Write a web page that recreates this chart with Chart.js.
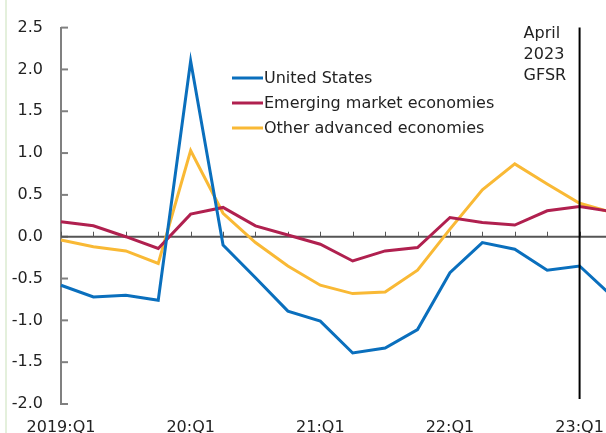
<!DOCTYPE html>
<html>
<head>
<meta charset="utf-8">
<script src="https://cdn.jsdelivr.net/npm/chart.js@4.4.1/dist/chart.umd.min.js"></script>
<style>
  html, body { margin: 0; padding: 0; background: #fff; overflow: hidden; }
  #wrap { position: relative; width: 606px; height: 433px; overflow: hidden; }
  #edge { position: absolute; left: 5px; top: 0; width: 2px; height: 433px; background: #e4f0dc; }
  canvas { position: absolute; left: 0; top: 0; }
</style>
</head>
<body>
<div id="wrap">
  <div id="edge"></div>
  <canvas id="chart" width="626" height="433"></canvas>
</div>
<script>
// quarters 2019:Q1 .. 2023:Q2
const quarters = [
  '2019:Q1', '2019:Q2', '2019:Q3', '2019:Q4',
  '2020:Q1', '2020:Q2', '2020:Q3', '2020:Q4',
  '2021:Q1', '2021:Q2', '2021:Q3', '2021:Q4',
  '2022:Q1', '2022:Q2', '2022:Q3', '2022:Q4',
  '2023:Q1', '2023:Q2'
];
const tickLabels = [
  '2019:Q1', '', '', '', '20:Q1', '', '', '', '21:Q1', '', '', '',
  '22:Q1', '', '', '', '23:Q1', ''
];
const unitedStates = [-0.58, -0.72, -0.70, -0.76, 2.10, -0.10, -0.49, -0.89, -1.01, -1.39, -1.33, -1.11, -0.43, -0.07, -0.15, -0.40, -0.35, -0.71];
const emerging     = [0.18, 0.13, 0.00, -0.14, 0.27, 0.35, 0.13, 0.02, -0.09, -0.29, -0.17, -0.13, 0.23, 0.17, 0.14, 0.31, 0.36, 0.30];
const otherAdv     = [-0.04, -0.12, -0.17, -0.32, 1.03, 0.28, -0.07, -0.35, -0.58, -0.68, -0.66, -0.40, 0.09, 0.56, 0.87, 0.63, 0.40, 0.29];
const gfsrQuarter = '2023:Q1';
const gfsrText = ['April', '2023', 'GFSR'];

const FONT = '16px "DejaVu Sans", sans-serif';
const TEXT = '#222';

const series = [
  { label: 'United States', data: unitedStates, color: '#0a6fbd' },
  { label: 'Emerging market economies', data: emerging, color: '#b0204f' },
  { label: 'Other advanced economies', data: otherAdv, color: '#f9b935' }
];

// axes decorations, annotation and legend
const extras = {
  id: 'extras',
  beforeDatasetsDraw(chart) {
    const { ctx, chartArea, scales: { x, y } } = chart;
    const y0 = y.getPixelForValue(0);
    ctx.save();
    // y ticks pointing inward
    ctx.strokeStyle = '#808080';
    ctx.lineWidth = 2;
    y.ticks.forEach(t => {
      const py = y.getPixelForValue(t.value);
      ctx.beginPath();
      ctx.moveTo(chartArea.left, py);
      ctx.lineTo(chartArea.left + 7, py);
      ctx.stroke();
    });
    // zero line with quarterly ticks
    ctx.strokeStyle = '#555';
    ctx.lineWidth = 2;
    ctx.beginPath();
    ctx.moveTo(chartArea.left, y0);
    ctx.lineTo(chartArea.right, y0);
    ctx.stroke();
    ctx.lineWidth = 1;
    quarters.forEach((q, i) => {
      const px = Math.round(x.getPixelForValue(i)) + 0.5;
      ctx.beginPath();
      ctx.moveTo(px, y0);
      ctx.lineTo(px, y0 - 5);
      ctx.stroke();
    });
    ctx.restore();
  },
  afterDatasetsDraw(chart) {
    const { ctx, chartArea, scales: { x, y } } = chart;
    ctx.save();
    // April 2023 GFSR marker
    const gx = x.getPixelForValue(quarters.indexOf(gfsrQuarter));
    ctx.strokeStyle = '#000';
    ctx.lineWidth = 2;
    ctx.beginPath();
    ctx.moveTo(gx, chartArea.top);
    ctx.lineTo(gx, y.getPixelForValue(-1.94));
    ctx.stroke();
    ctx.font = FONT;
    ctx.fillStyle = TEXT;
    ctx.textAlign = 'left';
    ctx.textBaseline = 'middle';
    gfsrText.forEach((t, i) => ctx.fillText(t, gx - 56, 34 + i * 21));
    // legend
    series.forEach((s, i) => {
      const ly = 78 + i * 25;
      ctx.strokeStyle = s.color;
      ctx.lineWidth = 3;
      ctx.beginPath();
      ctx.moveTo(232, ly);
      ctx.lineTo(263, ly);
      ctx.stroke();
      ctx.fillText(s.label, 264, ly + 1);
    });
    ctx.restore();
  }
};

new Chart(document.getElementById('chart'), {
  type: 'line',
  data: {
    labels: quarters,
    datasets: series.map(s => ({
      label: s.label,
      data: s.data,
      borderColor: s.color,
      borderWidth: 3,
      pointRadius: 0,
      tension: 0,
      fill: false
    }))
  },
  options: {
    responsive: false,
    animation: false,
    layout: { padding: { top: 23, right: 4, left: 0, bottom: 0 } },
    plugins: { legend: { display: false }, tooltip: { enabled: false } },
    scales: {
      x: {
        type: 'category',
        offset: false,
        grid: { display: false, drawTicks: false },
        border: { display: false },
        afterFit: s => { s.height = 29; },
        ticks: {
          autoSkip: false,
          maxRotation: 0,
          padding: 14,
          color: TEXT,
          font: { family: '"DejaVu Sans", sans-serif', size: 16 },
          callback: (v, i) => tickLabels[i]
        }
      },
      y: {
        min: -2,
        max: 2.5,
        grid: { display: false, drawTicks: false },
        border: { display: true, color: '#808080', width: 2 },
        afterFit: s => { s.width = 61; },
        ticks: {
          stepSize: 0.5,
          padding: 18,
          color: TEXT,
          font: { family: '"DejaVu Sans", sans-serif', size: 16 },
          callback: v => v.toFixed(1)
        }
      }
    }
  },
  plugins: [extras]
});
</script>
</body>
</html>
